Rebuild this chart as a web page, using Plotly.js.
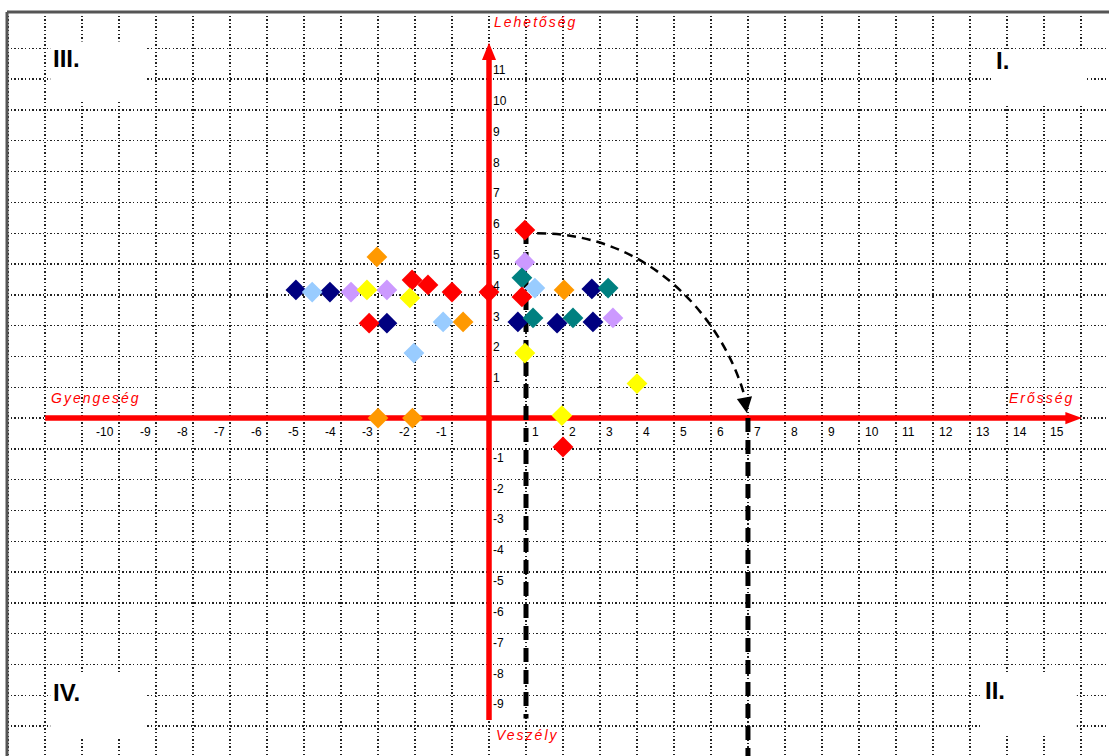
<!DOCTYPE html>
<html>
<head>
<meta charset="utf-8">
<script src="https://cdn.plot.ly/plotly-3.0.1.min.js"></script>
<style>
html,body{margin:0;padding:0;background:#fff;}
#chart{width:1109px;height:756px;}
</style>
</head>
<body>
<div id="chart"></div>
<script>
// ---------- data ----------
const navyX = [-5.22, -4.3, -2.76, 0.78, 1.84, 2.78, 2.81];
const navyY = [4.16, 4.09, 3.08, 3.12, 3.08, 4.19, 3.12];

const lightBlueX = [-4.78, -1.24, -2.03, 1.24];
const lightBlueY = [4.09, 3.12, 2.11, 4.22];

const lavenderX = [-3.73, -2.76, 0.97, 3.35];
const lavenderY = [4.09, 4.16, 5.06, 3.25];

const tealX = [0.89, 3.22, 1.19, 2.27];
const tealY = [4.55, 4.22, 3.25, 3.25];

const redX = [-2.08, -1.65, -1.0, 0.0, -3.24, 0.97, 0.89, 2.0];
const redY = [4.48, 4.32, 4.09, 4.09, 3.08, 6.1, 3.93, -0.94];

const yellowX = [-3.3, -2.14, 0.97, 4.0, 1.97];
const yellowY = [4.16, 3.9, 2.11, 1.12, 0.08];

const orangeX = [-3.03, -0.7, 2.03, -3.0, -2.07];
const orangeY = [5.23, 3.12, 4.16, 0.0, 0.0];

// tick labels
const xTickVals = [-10,-9,-8,-7,-6,-5,-4,-3,-2,-1,1,2,3,4,5,6,7,8,9,10,11,12,13,14,15];
const yTickVals = [-9,-8,-7,-6,-5,-4,-3,-2,-1,1,2,3,4,5,6,7,8,9,10,11];

// axis names
const axisNames = {top:'Lehetőség', left:'Gyengeség', right:'Erősség', bottom:'Veszély'};
const quadrantNames = ['I.', 'II.', 'III.', 'IV.'];

// ---------- drawing ----------
const X_MIN = -13.03, X_MAX = 16.76, Y_MIN = -10.97, Y_MAX = 13.18;
const gridX = [], gridY = [];
for (let v = -13; v <= 16; v++) gridX.push(v);
for (let v = -10; v <= 12; v++) gridY.push(v);

const RED = '#FF0000';
const axisLineTraces = [
  {x:[-12, 15.7], y:[0,0], mode:'lines', line:{color:RED, width:5.5}},
  {x:[0,0], y:[-9.8, 11.75], mode:'lines', line:{color:RED, width:5.5}},
  {x:[1,1], y:[6.1, -9.75], mode:'lines', line:{color:'#000', width:5, dash:'14px,8px'}},
  {x:[7,7], y:[0, Y_MIN], mode:'lines', line:{color:'#000', width:5, dash:'14px,8px'}}
];

function diamonds(xs, ys, color) {
  return {x:xs, y:ys, mode:'markers', type:'scatter',
    marker:{symbol:'diamond', size:16, color:color, line:{width:0}}};
}

const traces = axisLineTraces.concat([
  diamonds(navyX, navyY, '#000080'),
  diamonds(lightBlueX, lightBlueY, '#99CCFF'),
  diamonds(lavenderX, lavenderY, '#CC99FF'),
  diamonds(tealX, tealY, '#008080'),
  diamonds(redX, redY, '#FF0000'),
  diamonds(yellowX, yellowY, '#FFFF00'),
  diamonds(orangeX, orangeY, '#FF9900')
]);

const shapes = [
  // white boxes behind quadrant numbers
  {type:'rect', x0:-11.86, x1:-9.3, y0:12.22, y1:10.3, fillcolor:'#fff', line:{width:0}, layer:'above'},
  {type:'rect', x0:13.62, x1:16.16, y0:11.93, y1:10.19, fillcolor:'#fff', line:{width:0}, layer:'above'},
  {type:'rect', x0:-11.86, x1:-9.3, y0:-8.28, y1:-10.36, fillcolor:'#fff', line:{width:0}, layer:'above'},
  {type:'rect', x0:13.32, x1:15.89, y0:-8.28, y1:-10.23, fillcolor:'#fff', line:{width:0}, layer:'above'},
  // frame (top and left)
  {type:'line', xref:'paper', yref:'paper', x0:0, x1:1, y0:1, y1:1, line:{color:'#555', width:3}, layer:'above'},
  {type:'line', xref:'paper', yref:'paper', x0:0, x1:0, y0:0, y1:1, line:{color:'#555', width:3}, layer:'above'},
  // arrow heads of the red axes
  {type:'path', path:'M -0.19,11.62 L 0,12.18 L 0.19,11.62 Z', fillcolor:RED, line:{width:0}, layer:'above'},
  {type:'path', path:'M 15.58,0.2 L 16.03,0 L 15.58,-0.2 Z', fillcolor:RED, line:{width:0}, layer:'above'},
  // curved dashed arrow
  {type:'path', path:'M 1.3,6.0 C 4.5,6.0 6.4,3.0 6.92,0.66', line:{color:'#000', width:2.5, dash:'9px,6px'}, layer:'above'},
  {type:'path', path:'M 6.70,0.62 L 6.97,0.16 L 7.11,0.71 Z', fillcolor:'#000', line:{width:0}, layer:'above'}
];

const tickFont = {family:'Liberation Sans, Arial, sans-serif', size:12, color:'#000'};
const annotations = [];
xTickVals.forEach(v => annotations.push({
  x:v, y:0, text:String(v), showarrow:false, font:tickFont, borderpad:0,
  xanchor: v < 0 ? 'right' : 'left', yanchor:'middle', xshift: v < 0 ? -4 : 5, yshift:-14
}));
yTickVals.forEach(v => annotations.push({
  x:0, y:v, text:String(v), showarrow:false, font:tickFont, borderpad:0,
  xanchor:'left', yanchor:'middle', xshift:3, yshift: v > 0 ? 9 : -9
}));

const nameFont = {family:'Liberation Sans, Arial, sans-serif', size:14, color:RED, style:'italic'};
function spaced(t){ return '<span style="letter-spacing:2px">' + t + '</span>'; }
annotations.push(
  {x:0.11, y:12.86, text:spaced(axisNames.top), showarrow:false, font:nameFont, xanchor:'left', yanchor:'middle', borderpad:0},
  {x:-11.86, y:0.65, text:spaced(axisNames.left), showarrow:false, font:nameFont, xanchor:'left', yanchor:'middle', borderpad:0},
  {x:15.84, y:0.65, text:spaced(axisNames.right), showarrow:false, font:nameFont, xanchor:'right', yanchor:'middle', borderpad:0},
  {x:0.16, y:-10.29, text:spaced(axisNames.bottom), showarrow:false, font:nameFont, xanchor:'left', yanchor:'middle', borderpad:0}
);

const quadFont = {family:'Liberation Sans, Arial, sans-serif', size:24, color:'#000', weight:'bold'};
const quadPos = [[13.68, 11.59], [13.38, -8.83], [-11.81, 11.66], [-11.81, -8.9]];
quadrantNames.forEach((q, i) => annotations.push({
  x:quadPos[i][0], y:quadPos[i][1], text:'<b>' + q + '</b>', showarrow:false, font:quadFont,
  xanchor:'left', yanchor:'middle', borderpad:0
}));

const gridStyle = {showgrid:true, gridcolor:'#222', gridwidth:1.4, griddash:'1.4px,2.2px',
  zeroline:false, showline:false, showticklabels:false, ticks:'', tickmode:'array', fixedrange:true};

const layout = {
  width:1109, height:756,
  margin:{l:7, r:0, t:12, b:0, pad:0},
  paper_bgcolor:'#fff', plot_bgcolor:'#fff',
  showlegend:false, hovermode:false,
  xaxis:Object.assign({range:[X_MIN, X_MAX], tickvals:gridX}, gridStyle),
  yaxis:Object.assign({range:[Y_MIN, Y_MAX], tickvals:gridY}, gridStyle),
  shapes:shapes,
  annotations:annotations
};

Plotly.newPlot('chart', traces, layout, {staticPlot:true, displayModeBar:false});
</script>
</body>
</html>
